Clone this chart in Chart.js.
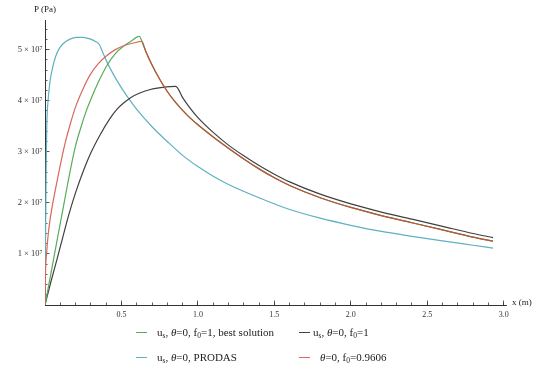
<!DOCTYPE html>
<html><head><meta charset="utf-8">
<script src="https://cdn.jsdelivr.net/npm/chart.js@4/dist/chart.umd.min.js"></script>
<style>
body{margin:0;background:#fff;}
#wrap{position:relative;width:534px;height:367px;font-family:"Liberation Serif","Times New Roman",serif;color:#222;overflow:hidden;}
canvas{position:absolute;left:0;top:0;}
.t{position:absolute;white-space:nowrap;line-height:1;}
.leg{position:absolute;white-space:nowrap;font-size:11px;line-height:1;}
.sw{position:absolute;width:11px;height:0;border-top:1.3px solid;}
.sb{font-size:0.68em;position:relative;top:0.25em;}
</style></head><body>
<div id="wrap">
<canvas id="c" width="534" height="367"></canvas>
<div class="t" style="left:34px;top:5px;font-size:9px">P (Pa)</div>
<div class="t" style="left:512px;top:298px;font-size:9px">x (m)</div>
<div class="sw" style="left:136px;top:332px;border-color:#5aab5a"></div>
<div class="leg" style="left:157px;top:327px">u<span class="sb">s</span>, <i>θ</i>=0, f<span class="sb">0</span>=1, best solution</div>
<div class="sw" style="left:299px;top:332px;border-color:#404040"></div>
<div class="leg" style="left:313px;top:327px">u<span class="sb">s</span>, <i>θ</i>=0, f<span class="sb">0</span>=1</div>
<div class="sw" style="left:136px;top:357px;border-color:#5fb0c0"></div>
<div class="leg" style="left:157px;top:352px">u<span class="sb">s</span>, <i>θ</i>=0, PRODAS</div>
<div class="sw" style="left:299px;top:357px;border-color:#d9675a"></div>
<div class="leg" style="left:320px;top:352px"><i>θ</i>=0, f<span class="sb">0</span>=0.9606</div>
</div>
<script>
// Pressure values in units of 10^7 Pa, x in m
const greenX = [0,0.025,0.05,0.075,0.1,0.125,0.15,0.175,0.2,0.235,0.27,0.3,0.35,0.403,0.46,0.51,0.56,0.616,0.645,0.66,0.7,0.75,0.8,0.85,0.9,0.95,1.0,1.1,1.2,1.3,1.4,1.5,1.6,1.8,2.0,2.2,2.4,2.6,2.8,2.93];
const greenY = [0,0.4,0.8,1.2,1.6,2.0,2.4,2.78,3.12,3.48,3.8,4.03,4.37,4.68,4.92,5.06,5.16,5.26,5.07,4.96,4.70,4.42,4.18,3.98,3.81,3.66,3.53,3.29,3.07,2.86,2.665,2.49,2.34,2.10,1.91,1.75,1.61,1.47,1.33,1.25];

const redX = [0,0.003,0.01,0.02,0.033,0.05,0.076,0.1,0.13,0.163,0.2,0.25,0.294,0.35,0.403,0.46,0.52,0.58,0.632,0.66,0.7,0.75,0.8,0.85,0.9,0.95,1.0,1.1,1.2,1.3,1.4,1.5,1.6,1.8,2.0,2.2,2.4,2.6,2.8,2.93];
const redY = [0,0.6,1.0,1.35,1.67,1.98,2.38,2.74,3.15,3.52,3.88,4.24,4.5,4.73,4.88,5.0,5.08,5.13,5.16,4.96,4.70,4.42,4.18,3.98,3.81,3.66,3.53,3.29,3.07,2.86,2.665,2.49,2.34,2.10,1.91,1.75,1.61,1.47,1.33,1.25];

const blackX = [0,0.04,0.077,0.115,0.153,0.2,0.25,0.3,0.36,0.42,0.47,0.52,0.56,0.62,0.69,0.77,0.855,0.9,0.95,1.0,1.1,1.2,1.3,1.4,1.5,1.6,1.8,2.0,2.2,2.4,2.6,2.8,2.93];
const blackY = [0,0.47,0.88,1.31,1.74,2.2,2.62,2.98,3.33,3.63,3.83,3.97,4.06,4.15,4.22,4.26,4.28,4.06,3.85,3.67,3.38,3.13,2.92,2.73,2.56,2.41,2.17,1.98,1.82,1.68,1.54,1.40,1.32];

const cyanX = [0,0.004,0.008,0.012,0.02,0.033,0.05,0.07,0.095,0.12,0.16,0.207,0.25,0.294,0.33,0.355,0.38,0.403,0.45,0.5,0.55,0.6,0.7,0.8,0.9,1.0,1.1,1.2,1.4,1.6,1.8,2.0,2.2,2.4,2.6,2.8,2.93];
const cyanY = [0,1.5,2.8,3.55,4.0,4.38,4.65,4.87,5.03,5.12,5.2,5.24,5.24,5.21,5.16,5.10,4.93,4.77,4.50,4.25,4.03,3.83,3.49,3.20,2.93,2.71,2.52,2.36,2.10,1.87,1.70,1.56,1.44,1.345,1.255,1.17,1.115];

const xMajorTicks = [0.5,1.0,1.5,2.0,2.5,3.0];
const xTickLabels = ['0.5','1.0','1.5','2.0','2.5','3.0'];
const yMajorTicks = [1,2,3,4,5];
const yTickLabels = ['1 \u00d7 10\u2077','2 \u00d7 10\u2077','3 \u00d7 10\u2077','4 \u00d7 10\u2077','5 \u00d7 10\u2077'];
const xMinorTicks = []; for (let i = 1; i <= 30; i++) xMinorTicks.push(i / 10);
const yMinorTicks = []; for (let i = 1; i <= 27; i++) yMinorTicks.push(i / 5);

const GREEN = '#5aab5a', RED = '#d9675a', BLACK = '#404040', CYAN = '#5fb0c0', BROWN = '#a8603c';
const AX = '#333';
const SERIF = '"Liberation Serif","Times New Roman",serif';
const XMAX = 3.015, YMAX = 5.58;

const pts = (xs, ys) => xs.map((x, i) => ({x, y: ys[i]}));
const kinkX = redX[redY.indexOf(Math.max(...redY))];

function ds(data, color, order, shared) {
  return {
    data, borderColor: color, borderWidth: 1.2, pointRadius: 0, fill: false,
    cubicInterpolationMode: 'monotone', order,
    segment: shared ? { borderColor: c => c.p0.parsed.x >= kinkX ? BROWN : color } : undefined
  };
}

const minorAxis = (pos, ticks) => ({
  type: 'linear', min: 0, max: pos === 'bottom' ? XMAX : YMAX, position: pos, weight: 0,
  afterBuildTicks: s => { s.ticks = ticks.map(v => ({value: v})); },
  afterFit: s => { if (pos === 'bottom') s.height = 0; else s.width = 0; },
  border: {display: false},
  grid: {display: true, drawOnChartArea: false, drawTicks: true, tickLength: -2.5, color: AX, lineWidth: 0.8},
  ticks: {display: false, autoSkip: false}
});

new Chart(document.getElementById('c'), {
  type: 'line',
  data: {
    datasets: [
      ds(pts(redX, redY), RED, 0, true),
      ds(pts(greenX, greenY), GREEN, 1, true),
      ds(pts(blackX, blackY), BLACK, 2, false),
      ds(pts(cyanX, cyanY), CYAN, 3, false)
    ]
  },
  options: {
    responsive: false, animation: false, devicePixelRatio: 1,
    layout: {padding: {left: 0, top: 20, right: 28, bottom: 40}},
    plugins: {legend: {display: false}, tooltip: {enabled: false}},
    scales: {
      x: {
        type: 'linear', min: 0, max: XMAX, position: 'bottom', weight: 1,
        afterBuildTicks: s => { s.ticks = xMajorTicks.map(v => ({value: v})); },
        afterFit: s => { s.height = 22; },
        border: {display: true, color: AX, width: 1},
        grid: {display: true, drawOnChartArea: false, drawTicks: true, tickLength: -4.5, color: AX, lineWidth: 0.8},
        ticks: {autoSkip: false, maxRotation: 0, padding: 10, color: '#333',
          font: {family: SERIF, size: 8}, callback: (v, i) => xTickLabels[i]}
      },
      xm: minorAxis('bottom', xMinorTicks),
      y: {
        type: 'linear', min: 0, max: YMAX, position: 'left', weight: 1,
        afterBuildTicks: s => { s.ticks = yMajorTicks.map(v => ({value: v})); },
        afterFit: s => { s.width = 45; },
        border: {display: true, color: AX, width: 1},
        grid: {display: true, drawOnChartArea: false, drawTicks: true, tickLength: -4.5, color: AX, lineWidth: 0.8},
        ticks: {autoSkip: false, padding: 7, color: '#333',
          font: {family: SERIF, size: 8.5}, callback: (v, i) => yTickLabels[i]}
      },
      ym: minorAxis('left', yMinorTicks)
    }
  }
});
</script>
</body></html>
